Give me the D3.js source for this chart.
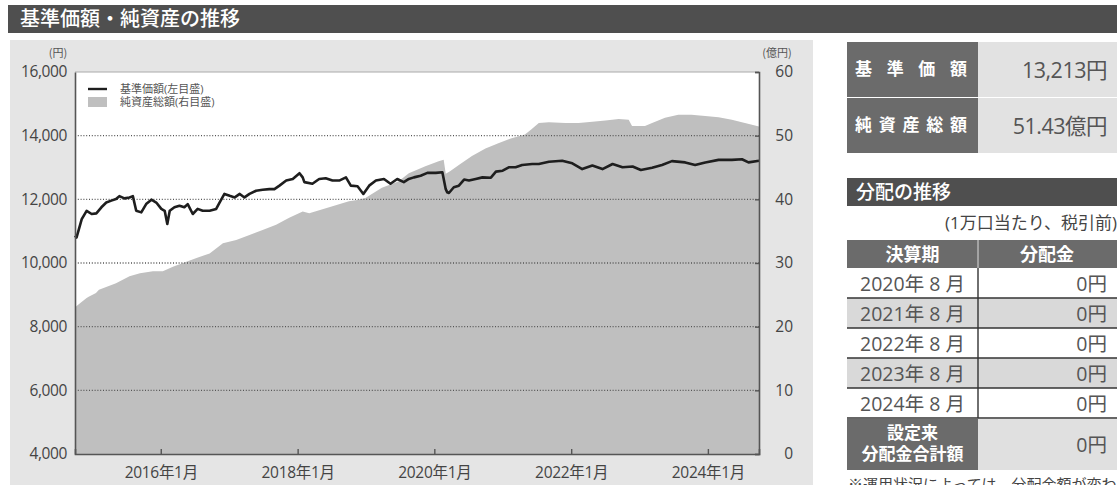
<!DOCTYPE html>
<html><head><meta charset="utf-8">
<script src="https://cdn.jsdelivr.net/npm/d3@7"></script>
<style>
body{margin:0;background:#fff}
svg{display:block}
text{font-family:"Open Sans","Noto Sans CJK JP",sans-serif}
.jp{font-family:"Noto Sans CJK JP",sans-serif}
</style>
</head><body>
<svg id="c" width="1117" height="485"></svg>
<script>
// ---- data ----
const navDates = ["2014-09-30","2014-10-08","2014-11-05","2014-12-01","2014-12-28","2015-01-22","2015-02-18","2015-03-16","2015-04-12","2015-05-07","2015-05-25","2015-06-21","2015-07-18","2015-08-05","2015-08-23","2015-09-19","2015-10-15","2015-11-12","2015-12-08","2016-01-04","2016-01-22","2016-02-05","2016-02-18","2016-03-14","2016-04-10","2016-05-06","2016-05-24","2016-06-20","2016-07-16","2016-08-12","2016-09-18","2016-10-23","2016-11-10","2016-12-06","2017-01-03","2017-01-30","2017-02-26","2017-03-23","2017-04-19","2017-05-24","2017-06-28","2017-08-03","2017-08-30","2017-09-26","2017-11-01","2017-12-06","2018-01-11","2018-01-28","2018-02-06","2018-03-21","2018-04-26","2018-05-31","2018-07-06","2018-08-11","2018-09-16","2018-10-12","2018-11-17","2018-12-18","2019-01-18","2019-02-23","2019-04-07","2019-05-12","2019-06-17","2019-07-22","2019-08-18","2019-09-14","2019-10-20","2019-11-25","2020-01-09","2020-02-13","2020-03-02","2020-03-10","2020-03-19","2020-04-14","2020-05-11","2020-06-08","2020-07-04","2020-08-09","2020-09-14","2020-10-29","2020-11-25","2020-12-31","2021-02-04","2021-03-10","2021-04-14","2021-06-07","2021-07-12","2021-09-04","2021-11-14","2022-01-07","2022-03-01","2022-04-24","2022-06-17","2022-08-10","2022-10-02","2022-11-25","2023-01-08","2023-03-09","2023-05-01","2023-06-23","2023-09-02","2023-10-25","2023-12-18","2024-02-27","2024-05-08","2024-07-01","2024-08-05","2024-09-30"];
const navValues = [10860,10800,11380,11640,11540,11560,11750,11900,11960,12010,12100,12030,12060,12100,11640,11590,11850,11990,11900,11700,11640,11225,11640,11750,11800,11750,11850,11540,11700,11640,11640,11700,11900,12170,12110,12060,12170,12060,12170,12270,12300,12320,12320,12430,12590,12640,12820,12690,12540,12490,12640,12660,12590,12590,12690,12430,12410,12170,12430,12590,12640,12490,12640,12540,12640,12690,12740,12830,12830,12850,12320,12220,12200,12380,12430,12620,12590,12640,12690,12680,12870,12900,13010,13010,13080,13110,13110,13180,13210,13130,12950,13060,12950,13110,13010,13030,12920,12990,13080,13200,13160,13080,13160,13240,13240,13260,13160,13213];

const aumDates = ["2014-09-30","2014-10-15","2014-12-01","2014-12-12","2015-01-20","2015-02-05","2015-05-07","2015-07-18","2015-09-12","2015-11-20","2016-01-12","2016-03-06","2016-04-29","2016-07-10","2016-09-18","2016-11-28","2017-02-07","2017-04-19","2017-06-28","2017-09-08","2017-11-17","2018-01-28","2018-03-04","2018-07-06","2018-10-02","2018-11-15","2018-12-29","2019-03-27","2019-06-23","2019-08-18","2019-11-14","2020-01-24","2020-02-20","2020-03-02","2020-03-25","2020-05-11","2020-07-20","2020-09-30","2020-12-08","2021-02-17","2021-04-29","2021-06-03","2021-07-12","2021-09-04","2021-12-01","2022-02-10","2022-04-24","2022-07-03","2022-09-12","2022-11-04","2022-11-22","2023-01-30","2023-03-09","2023-05-17","2023-07-27","2023-10-05","2023-12-18","2024-02-27","2024-05-08","2024-07-17","2024-09-30"];
const aumValues = [23.0,23.4,24.5,24.7,25.3,25.8,26.8,27.9,28.4,28.7,28.7,29.4,30.0,30.8,31.5,33.1,33.6,34.4,35.2,36.0,37.1,38.1,37.8,38.9,39.7,39.9,40.2,41.8,42.8,44.1,45.2,46.0,46.2,44.0,44.4,45.4,46.8,48.0,48.8,49.6,50.2,51.0,52.0,52.1,52.0,52.0,52.2,52.4,52.6,52.5,51.5,51.5,52.0,52.8,53.3,53.3,53.1,52.9,52.5,52.0,51.43];

const leftTicks = [4000,6000,8000,10000,12000,14000,16000];
const rightTicks = [0,10,20,30,40,50,60];
const xTickDates = ["2016-01-01","2018-01-01","2020-01-01","2022-01-01","2024-01-01"];
const xDomain = ["2014-09-30","2024-09-30"];

const legendLabels = ["基準価額(左目盛)","純資産総額(右目盛)"];
const summaryLabels = ["基準価額","純資産総額"];
const summaryValues = ["13,213円","51.43億円"];
const distPeriods = ["2020年 8 月","2021年 8 月","2022年 8 月","2023年 8 月","2024年 8 月"];
const distAmounts = ["0円","0円","0円","0円","0円"];
const distTotalLabel = ["設定来","分配金合計額"];
const distTotal = "0円";

// ---- drawing ----
const svg = d3.select("#c");
const parse = d3.timeParse("%Y-%m-%d");
const nav = navDates.map((d,i)=>({date:parse(d), v:navValues[i]}));
const aum = aumDates.map((d,i)=>({date:parse(d), v:aumValues[i]}));

// title bar
svg.append("rect").attr("x",8).attr("y",5).attr("width",1109).attr("height",28).attr("fill","#4f4f4f");
svg.append("text").attr("class","jp").attr("x",20).attr("y",26).attr("fill","#fff")
  .attr("font-size",20).attr("font-weight",500).text("基準価額・純資産の推移");

// chart panel
svg.append("rect").attr("x",10).attr("y",40).attr("width",803).attr("height",445).attr("fill","#e5e5e5");

const P = {l:75, r:759, t:72, b:454};
svg.append("rect").attr("x",P.l).attr("y",P.t).attr("width",P.r-P.l).attr("height",P.b-P.t).attr("fill","#fff");

const x = d3.scaleTime().domain(xDomain.map(parse)).range([P.l,P.r]);
const yL = d3.scaleLinear().domain([4000,16000]).range([P.b,P.t]);
const yR = d3.scaleLinear().domain([0,60]).range([P.b,P.t]);

// area
svg.append("path").datum(aum)
  .attr("d", d3.area().x(d=>x(d.date)).y0(yR(0)).y1(d=>yR(d.v)).curve(d3.curveLinear))
  .attr("fill","#bfbfbf");

// grid
svg.append("g").selectAll("line").data(leftTicks.filter(t=>t>4000&&t<16000)).join("line")
  .attr("x1",P.l).attr("x2",P.r).attr("y1",d=>yL(d)).attr("y2",d=>yL(d))
  .attr("stroke","#555").attr("stroke-width",1.3).attr("stroke-dasharray","1,1.8");

// line
svg.append("path").datum(nav)
  .attr("d", d3.line().x(d=>x(d.date)).y(d=>yL(d.v)))
  .attr("fill","none").attr("stroke","#1e1e1e").attr("stroke-width",2.6).attr("stroke-linejoin","round");

// frame
svg.append("line").attr("x1",P.l).attr("x2",P.r).attr("y1",P.t).attr("y2",P.t).attr("stroke","#aaa").attr("stroke-width",1);

// axes
const axL = svg.append("g").attr("transform",`translate(${P.l},0)`)
  .call(d3.axisLeft(yL).tickValues(leftTicks).tickFormat(d3.format(",")).tickSize(0).tickPadding(8));
const axR = svg.append("g").attr("transform",`translate(${P.r},0)`)
  .call(d3.axisRight(yR).tickValues(rightTicks).tickSize(-4).tickPadding(12));
const axB = svg.append("g").attr("transform",`translate(0,${P.b})`)
  .call(d3.axisBottom(x).tickValues(xTickDates.map(parse)).tickFormat(d3.timeFormat("%Y年%-m月")).tickSize(-5).tickPadding(13));
[axL,axR,axB].forEach(a=>{
  a.select(".domain").attr("stroke","#555").attr("stroke-width",1.6);
  a.selectAll(".tick line").attr("stroke","#555").attr("stroke-width",1.4);
  a.selectAll("text").attr("fill","#444").attr("font-size",15.5).attr("font-family",'"Open Sans","Noto Sans CJK JP",sans-serif');
});
axR.selectAll("text").attr("text-anchor","end").attr("dx","22");
axL.selectAll("text").attr("letter-spacing","-0.4");
axB.selectAll("text").attr("letter-spacing","-0.3");

// unit labels
svg.append("text").attr("class","jp").attr("x",58).attr("y",57).attr("text-anchor","middle").attr("font-size",11).attr("fill","#555").text("(円)");
svg.append("text").attr("class","jp").attr("x",777).attr("y",57).attr("text-anchor","middle").attr("font-size",11).attr("fill","#555").text("(億円)");

// legend
const lg = svg.append("g").attr("class","jp");
lg.append("line").attr("x1",88).attr("x2",107).attr("y1",89).attr("y2",89).attr("stroke","#1e1e1e").attr("stroke-width",2.4);
lg.append("rect").attr("x",88).attr("y",97).attr("width",19).attr("height",10).attr("fill","#bfbfbf");
lg.selectAll("text").data(legendLabels).join("text")
  .attr("x",120).attr("y",(d,i)=>92.5+i*13).attr("font-size",11).attr("fill","#555").text(d=>d);

// ---- right panel ----
const RX = 847, RM = 978, RE = 1117;
const sg = svg.append("g").attr("class","jp");
summaryLabels.forEach((lab,i)=>{
  const y0 = 42 + i*56;
  sg.append("rect").attr("x",RX).attr("y",y0).attr("width",RM-RX).attr("height",55).attr("fill","#6b6b6b");
  sg.append("rect").attr("x",RM).attr("y",y0).attr("width",RE-RM).attr("height",55).attr("fill","#e2e2e2");
  sg.append("text").attr("x",855).attr("y",y0+33).attr("font-size",17).attr("font-weight",700).attr("fill","#fff")
    .attr("textLength",112).attr("lengthAdjust","spacing").text(lab);
  sg.append("text").attr("x",1107).attr("y",y0+36).attr("text-anchor","end").attr("font-size",21.5).attr("fill","#555")
    .attr("font-family",'"Open Sans","Noto Sans CJK JP",sans-serif').attr("letter-spacing","-0.5").text(summaryValues[i]);
});

// distribution header
sg.append("rect").attr("x",RX).attr("y",178).attr("width",RE-RX).attr("height",28).attr("fill","#4f4f4f");
sg.append("text").attr("x",856).attr("y",199).attr("font-size",19).attr("font-weight",500).attr("fill","#fff").text("分配の推移");
sg.append("text").attr("x",1117).attr("y",229).attr("text-anchor","end").attr("font-size",17).attr("fill","#444").text("(1万口当たり、税引前)");

// table header
sg.append("rect").attr("x",RX).attr("y",240).attr("width",RE-RX).attr("height",28).attr("fill","#6b6b6b");
sg.append("line").attr("x1",RM).attr("x2",RM).attr("y1",240).attr("y2",268).attr("stroke","#ddd").attr("stroke-width",1);
sg.append("text").attr("x",(RX+RM)/2).attr("y",261).attr("text-anchor","middle").attr("font-size",18).attr("font-weight",700).attr("fill","#fff").text("決算期");
sg.append("text").attr("x",1047).attr("y",261).attr("text-anchor","middle").attr("font-size",18).attr("font-weight",700).attr("fill","#fff").text("分配金");

const rowH = 30, row0 = 268;
const rows = sg.append("g");
distPeriods.forEach((p,i)=>{
  const y0 = row0 + i*rowH;
  rows.append("rect").attr("x",RX).attr("y",y0).attr("width",RE-RX).attr("height",rowH).attr("fill", i%2 ? "#d9d9d9" : "#fff");
  rows.append("text").attr("x",(RX+RM)/2).attr("y",y0+23).attr("text-anchor","middle").attr("font-size",19.5).attr("fill","#555")
    .attr("font-family",'"Open Sans","Noto Sans CJK JP",sans-serif').text(p);
  rows.append("text").attr("x",1107).attr("y",y0+23).attr("text-anchor","end").attr("font-size",19.5).attr("fill","#555")
    .attr("font-family",'"Open Sans","Noto Sans CJK JP",sans-serif').text(distAmounts[i]);
  if(i>0) rows.append("line").attr("x1",RX).attr("x2",RE).attr("y1",y0).attr("y2",y0).attr("stroke","#333").attr("stroke-width",1.4);
});
const totY = row0 + distPeriods.length*rowH;
rows.append("line").attr("x1",RX).attr("x2",RE).attr("y1",totY).attr("y2",totY).attr("stroke","#333").attr("stroke-width",1.4);
rows.append("line").attr("x1",RM).attr("x2",RM).attr("y1",row0).attr("y2",totY).attr("stroke","#333").attr("stroke-width",1.4);
rows.append("rect").attr("x",RX).attr("y",totY+1).attr("width",RM-RX).attr("height",51).attr("fill","#6b6b6b");
rows.append("rect").attr("x",RM).attr("y",totY+1).attr("width",RE-RM).attr("height",51).attr("fill","#e0e0e0");
distTotalLabel.forEach((t,i)=>{
  rows.append("text").attr("x",(RX+RM)/2).attr("y",totY+21+i*21).attr("text-anchor","middle").attr("font-size",17).attr("font-weight",700).attr("fill","#fff").text(t);
});
rows.append("text").attr("x",1107).attr("y",totY+34).attr("text-anchor","end").attr("font-size",19.5).attr("fill","#555")
  .attr("font-family",'"Open Sans","Noto Sans CJK JP",sans-serif').text(distTotal);

sg.append("text").attr("x",848).attr("y",490).attr("font-size",15).attr("fill","#444").text("※運用状況によっては、分配金額が変わる場合があります。");
</script>
</body></html>
